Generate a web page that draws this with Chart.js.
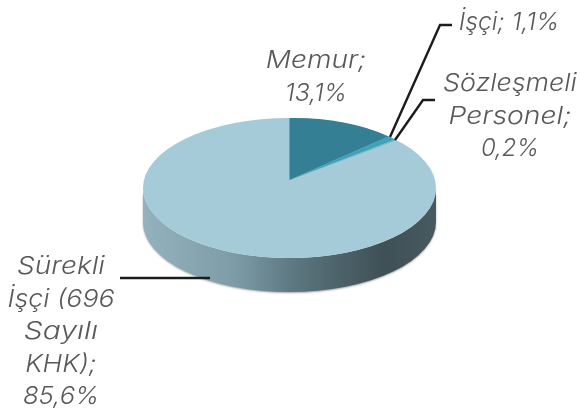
<!DOCTYPE html>
<html><head><meta charset="utf-8">
<style>html,body{margin:0;padding:0;background:#fff}#w{width:580px;height:410px}</style>
<script src="https://cdn.jsdelivr.net/npm/chart.js@4"></script>
</head><body><div id="w"><canvas id="c"></canvas></div>
<script>
const categories = ['Memur','İşçi','Sözleşmeli Personel','Sürekli İşçi (696 Sayılı KHK)'];
const shareValues = [13.1,1.1,0.2,85.6];
const sliceColors = ['#357f94','#3fa2b9','#6fb6c8','#a5cad8'];
const labelLines = [['Memur;','13,1%'],['İşçi; 1,1%'],['Sözleşmeli','Personel;','0,2%'],['Sürekli','İşçi (696','Sayılı','KHK);','85,6%']];
const labelAnchors = [[316,61],[509,23],[510,84],[61,267]];
const lineStretch = [[1.17,1.03],[1.03],[1.12,1.18,1.0],[1.17,1.115,1.25,1.11,1.07]];
const leaderPaths = [null,[[390,137],[440,25],[452,25]],[[395,140],[423,100],[435,100]],[[120,278],[210,278]]];
const disc = {x:289.5,y:188,rx:146.5,ry:70,depth:34,apexShift:0.114};
const wallStops = [[0,'#93b2be'],[0.3,'#7f9da9'],[0.5,'#5f7a83'],[0.65,'#4e656c'],[0.82,'#3f5056'],[1,'#475a60']];
const fontSpec = 'italic 300 24px Inter, Lato, sans-serif';

function project(u,v){const a=disc.apexShift,d=1-a*v;
  return [disc.x+disc.rx*u*Math.sqrt(1-a*a)/d, disc.y+disc.ry*(v-a)/d];}
function solve(s,t){
  const [x0,y0]=s[0],[x1,y1]=s[1],[x2,y2]=s[2];
  const D=(x1-x0)*(y2-y0)-(x2-x0)*(y1-y0);
  const A=((t[1][0]-t[0][0])*(y2-y0)-(t[2][0]-t[0][0])*(y1-y0))/D;
  const C=((t[2][0]-t[0][0])*(x1-x0)-(t[1][0]-t[0][0])*(x2-x0))/D;
  const B=((t[1][1]-t[0][1])*(y2-y0)-(t[2][1]-t[0][1])*(y1-y0))/D;
  const E=((t[2][1]-t[0][1])*(x1-x0)-(t[1][1]-t[0][1])*(x2-x0))/D;
  return [A,B,C,E,t[0][0]-A*x0-C*y0,t[0][1]-B*x0-E*y0];
}
const pie3d={id:'pie3d',
  beforeDatasetsDraw(chart){
    const ctx=chart.ctx;
    const g=ctx.createLinearGradient(disc.x-disc.rx,0,disc.x+disc.rx,0);
    wallStops.forEach(s=>g.addColorStop(s[0],s[1]));
    ctx.save();
    ctx.shadowColor='rgba(90,90,90,0.55)';ctx.shadowBlur=2;ctx.shadowOffsetX=0;ctx.shadowOffsetY=1;
    ctx.fillStyle=g;ctx.beginPath();
    ctx.ellipse(disc.x,disc.y,disc.rx,disc.ry,0,0,Math.PI);
    ctx.lineTo(disc.x-disc.rx,disc.y+disc.depth);
    ctx.ellipse(disc.x,disc.y+disc.depth,disc.rx,disc.ry,0,Math.PI,0,true);
    ctx.closePath();ctx.fill();
    ctx.restore();
    ctx.fillStyle=sliceColors[3];ctx.beginPath();
    ctx.ellipse(disc.x,disc.y,disc.rx,disc.ry,0,0,Math.PI*2);ctx.fill();
  },
  beforeDatasetDraw(chart,args){
    const ctx=chart.ctx,arcs=chart.getDatasetMeta(args.index).data;
    [0,1,2].forEach(i=>{
      const el=arcs[i];
      const R=el.outerRadius,cx=el.x,cy=el.y;
      const p=a=>[cx+R*Math.cos(a),cy+R*Math.sin(a)];
      const q=a=>project(Math.cos(a),Math.sin(a));
      const m=solve([[cx,cy],p(el.startAngle),p(el.endAngle)],[project(0,0),q(el.startAngle),q(el.endAngle)]);
      ctx.save();ctx.transform(...m);el.draw(ctx);ctx.restore();
    });
    return false;
  },
  afterDatasetsDraw(chart){
    const ctx=chart.ctx;
    ctx.save();ctx.strokeStyle='#1c1c1c';ctx.lineWidth=2.4;ctx.lineJoin='miter';
    leaderPaths.forEach(p=>{if(!p)return;ctx.beginPath();p.forEach((c,i)=>i?ctx.lineTo(c[0],c[1]):ctx.moveTo(c[0],c[1]));ctx.stroke();});
    ctx.fillStyle='#595959';ctx.font=fontSpec;ctx.textAlign='center';ctx.textBaseline='middle';
    labelLines.forEach((lines,i)=>lines.forEach((t,k)=>{
      ctx.save();
      ctx.translate(labelAnchors[i][0],labelAnchors[i][1]+k*32.5);
      ctx.scale(lineStretch[i][k],1);
      ctx.fillText(t,0,0);
      ctx.restore();
    }));
    ctx.restore();
  }
};
new Chart(document.getElementById('c'),{
  type:'pie',
  data:{labels:categories,datasets:[{data:shareValues,backgroundColor:sliceColors,borderWidth:0}]},
  options:{responsive:true,maintainAspectRatio:false,animation:false,
    plugins:{legend:{display:false},tooltip:{enabled:false}}},
  plugins:[pie3d]
});
</script></body></html>
